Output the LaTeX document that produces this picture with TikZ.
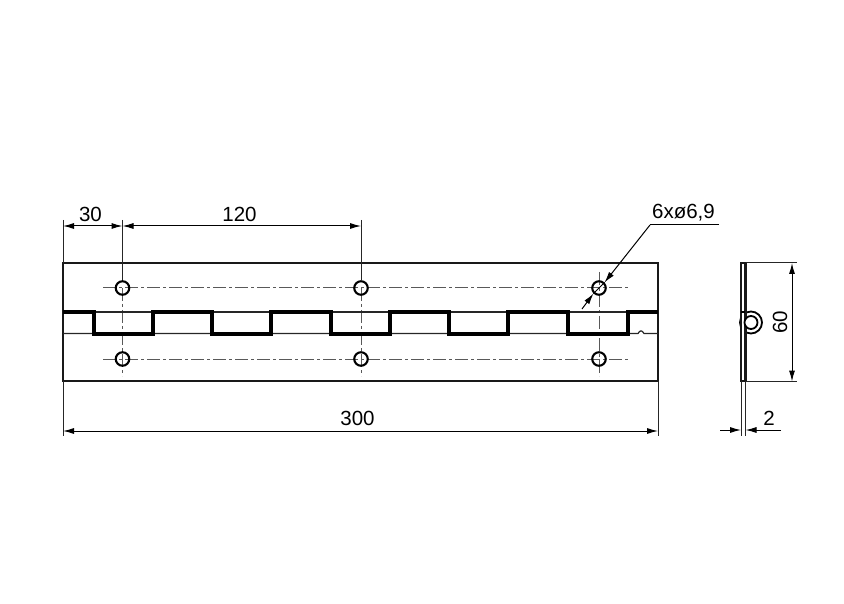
\documentclass[tikz,border=0pt]{standalone}
\usepackage{fontspec}
\setmainfont{Liberation Sans}
\usetikzlibrary{arrows.meta, positioning}

\begin{document}
\begin{tikzpicture}[x=1pt,y=-1pt,
% Line styles
    outline/.style={line width=2.1pt,draw=black!90},
    knuckle/.style={line width=3.2pt,draw=black,line join=miter},
    thinline/.style={line width=1.2pt,draw=black!85},
    extline/.style={line width=1pt,draw=black!85},
    centerline/.style={line width=1pt,draw=black!65,
		dash pattern=on 13pt off 3pt on 3pt off 3pt},
    hole/.style={circle,draw,line width=2.1pt,inner sep=0pt,minimum size=13.5pt},
% Dimension style
    dimline/.style={line width=1pt,draw=black,
		{Latex[length=11pt,width=6pt]}-{Latex[length=11pt,width=6pt]}},
    tip/.style={line width=1pt,draw=black,-{Latex[length=11pt,width=6pt]}},
    dimtext/.style={font=\fontsize{20.5}{22}\selectfont,inner sep=0pt}
    ]
\useasboundingbox (0,0) rectangle (844,604);
%% Named corners of the plate
   \coordinate (tl) at (63,263);
   \coordinate (tr) at (658,263);
   \coordinate (bl) at (63,381);
   \coordinate (br) at (658,381);
%% Center lines and holes
   \draw [centerline] (103,288) -- (628,288);
   \draw [centerline] (103,359) -- (628,359);
   \draw [centerline] (122.5,288) -- (122.5,376);
   \draw [centerline] (361,288) -- (361,376);
   \draw [centerline] (599,272) -- (599,376);
   \foreach \name/\px in {a/122.5,b/361,c/599} {
      \node [hole] (hole\name1) at (\px,288) {};
      \node [hole] (hole\name2) at (\px,359) {};
   }
%% Plate and hinge knuckles
   \draw [outline] (tl) rectangle (br);
   \draw [thinline] (63,312) -- (658,312);
   \draw [thinline] (63,333.5) -- (638,333.5) .. controls (640,330) and (642,330) .. (644,333.5) -- (658,333.5);
   \draw [knuckle] (63,312) -- (94,312) -- (94,334) -- (153,334) -- (153,312)
	-- (212,312) -- (212,334) -- (271,334) -- (271,312)
	-- (331,312) -- (331,334) -- (390,334) -- (390,312)
	-- (449,312) -- (449,334) -- (508,334) -- (508,312)
	-- (568,312) -- (568,334) -- (628,334) -- (628,312) -- (658,312);
%% Dimensions on top
   \coordinate (e0) at (63,220);
   \coordinate (e1) at (122.5,220);
   \coordinate (e2) at (361,220);
   \coordinate (d0) at (63,226);
   \coordinate (d1) at (122.5,226);
   \coordinate (d2) at (361,226);
   \draw [extline] (e0) -- (tl);
   \draw [extline] (e1) -- (holea1);
   \draw [extline] (e2) -- (holeb1);
   \draw [dimline] (d0) -- (d1);
   \draw [dimline] (d1) -- (d2);
   \node [dimtext] (lab30) at (90.5,214.5) {30};
   \node [dimtext] (lab120) at (239.5,214.5) {120};
%% Overall length
   \coordinate (e3) at (63,436);
   \coordinate (e4) at (658,436);
   \draw [extline] (bl) -- (e3);
   \draw [extline] (br) -- (e4);
   \draw [dimline] (63,431) -- (658,431);
   \node [dimtext] (lab300) at (357.5,418) {300};
%% Hole callout
   \node [dimtext] (labhole) at (683.5,212.5) {6xø6,9};
   \coordinate (lead0) at (719,225);
   \coordinate (lead1) at (650,225);
   \coordinate (lead2) at (582,309);
   \draw [line width=1pt] (lead0) -- (lead1);
   \draw [tip] (lead1) -- (holec1.north east);
   \draw [tip] (lead2) -- (holec1.south west);
   \draw [line width=1pt] (holec1.north east) -- (holec1.south west);
%% Side view
   \coordinate (s1) at (741,263);
   \coordinate (s2) at (745.5,381);
   \node [circle,draw,line width=1.8pt,inner sep=0pt,minimum size=22pt] (ring) at (751,322.5) {};
   \draw [outline,line width=2.2pt,fill=white] (s1) rectangle (s2);
   \node [circle,draw,line width=1.8pt,inner sep=0pt,minimum size=13pt,fill=white] (pin) at (751,322.5) {};
   \draw [line width=1.8pt] (741,312) -- (745,312);
%% Side view dimensions
   \coordinate (t1) at (797,263);
   \coordinate (t2) at (797,381.5);
   \draw [extline] (745.5,263) -- (t1);
   \draw [extline] (745.5,381.5) -- (t2);
   \draw [dimline] (792,263) -- (792,381.5);
   \node [dimtext,rotate=90] (lab60) at (780,322) {60};
   \coordinate (t3) at (741,436);
   \coordinate (t4) at (745.5,436);
   \draw [extline] (741,381) -- (t3);
   \draw [extline] (745.5,381) -- (t4);
   \coordinate (a1) at (720,430);
   \coordinate (a2) at (781,430);
   \draw [tip] (a1) -- (741,430);
   \draw [tip] (a2) -- (745.5,430);
   \node [dimtext] (lab2) at (769,418) {2};
\end{tikzpicture}
\end{document}
